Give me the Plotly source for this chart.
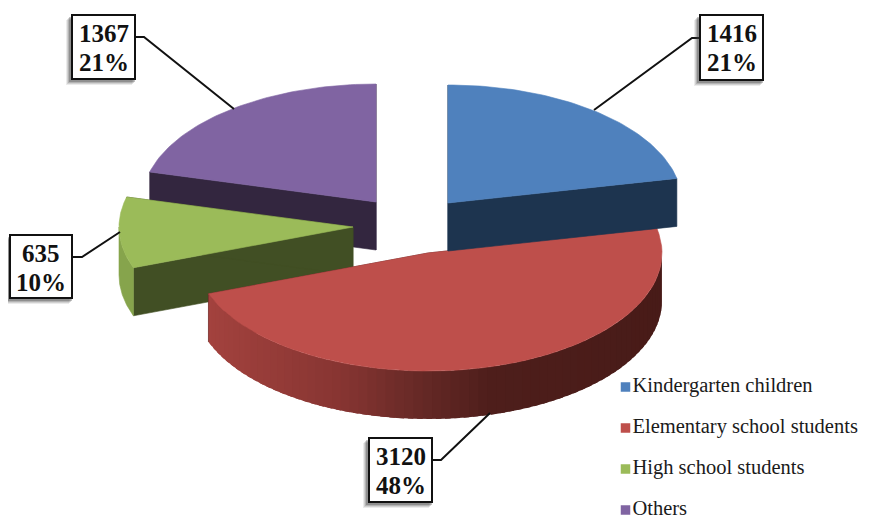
import math
import plotly.graph_objects as go

# ---- data -------------------------------------------------------------
categories = ["Kindergarten children", "Elementary school students", "High school students", "Others"]
values = [1416, 3120, 635, 1367]
percent_labels = ["21%", "48%", "10%", "21%"]

# ---- style and layout --------------------------------------------------
W, H = 872, 518
PAGE_MARGIN = 8  # the page body offsets the figure by this much
FONT = "Liberation Serif"
top_colors = ["#4F81BD", "#BE4F4B", "#9BBB59", "#8064A2"]
cut_colors = ["#1D344F", "#4E1F1D", "#414F24", "#33263F"]
wall_colors = ["#1D344F", None, "#86A44C", "#33263F"]
centers = [(448, 203), (428, 253), (353, 227), (376, 202)]
RX, RY, DEPTH = 234, 118, 48
draw_order = [3, 2, 1, 0]
red_stops = [(208, (163, 66, 62)), (340, (135, 53, 50)), (420, (102, 41, 38)),
             (490, (78, 30, 27)), (661, (72, 27, 24))]
label_boxes = [(700, 15, 763, 80), (369, 438, 432, 502), (10, 235, 72, 298), (72, 15, 135, 79)]
leaders = [[(700, 38), (692, 38), (594, 110)], [(432, 460), (441, 460), (490, 413)],
           [(72, 257), (82, 257), (120, 232)], [(135, 37), (144, 37), (234, 109)]]
legend_x, legend_ys = 625.5, [387, 428, 469, 510]

# ---- angles from the values ---------------------------------------------
total = sum(values)
starts, ends, acc = [], [], 0.0
for v in values:
    starts.append(acc)
    acc += v / total * 2 * math.pi
    ends.append(acc)


def rim(c, t, dy=0):
    return c[0] + RX * math.sin(t), c[1] - RY * math.cos(t) + dy


def arc(c, t0, t1, dy=0, n=60):
    return [rim(c, t0 + (t1 - t0) * k / n, dy) for k in range(n + 1)]


def poly(fig, pts, color, lw=0.6):
    fig.add_trace(go.Scatter(x=[p[0] for p in pts] + [pts[0][0]], y=[p[1] for p in pts] + [pts[0][1]],
                             mode="lines", fill="toself", fillcolor=color,
                             line=dict(color=color, width=lw), hoverinfo="skip", showlegend=False))


def red_color(x):
    for (x0, c0), (x1, c1) in zip(red_stops, red_stops[1:]):
        if x <= x1:
            f = max(0, (x - x0) / (x1 - x0))
            return "rgb(%d,%d,%d)" % tuple(round(a + (b - a) * f) for a, b in zip(c0, c1))
    return "rgb(%d,%d,%d)" % red_stops[-1][1]


fig = go.Figure()

for i in draw_order:
    c, t0, t1 = centers[i], starts[i], ends[i]
    # cut faces
    for t in (t0, t1):
        a, b = c, rim(c, t)
        poly(fig, [a, b, (b[0], b[1] + DEPTH), (a[0], a[1] + DEPTH)], cut_colors[i])
    # outer wall: only the front half of the rim shows
    w0, w1 = max(t0, math.pi / 2), min(t1, 3 * math.pi / 2)
    if w1 > w0:
        if i == 1:
            n = 70
            step = (w1 - w0) / n
            for k in range(n):
                a = w0 + step * k
                b = min(w1, a + step * 1.6)  # overlap hides seams between strips
                top = arc(c, a, b, 0, 3)
                low = arc(c, b, a, DEPTH, 3)
                poly(fig, top + low, red_color(rim(c, a + step / 2)[0]), lw=0)
        else:
            poly(fig, arc(c, w0, w1) + arc(c, w1, w0, DEPTH), wall_colors[i])
    # top face
    poly(fig, [c] + arc(c, t0, t1), top_colors[i])

# leader lines
for pts in leaders:
    fig.add_trace(go.Scatter(x=[p[0] for p in pts], y=[p[1] for p in pts], mode="lines",
                             line=dict(color="#111111", width=2), hoverinfo="skip", showlegend=False))

# legend keys and names
fig.add_trace(go.Scatter(x=[legend_x] * 4, y=legend_ys, mode="markers+text",
                         marker=dict(symbol="square", size=9.5, color=top_colors, line=dict(width=0)),
                         text=categories, textposition="middle right",
                         textfont=dict(family=FONT, size=20.5, color="#1a1a1a"),
                         hoverinfo="skip", showlegend=False, cliponaxis=False))

shapes, annotations = [], []
for box, val, pct in zip(label_boxes, values, percent_labels):
    x0, y0, x1, y1 = box
    for off, alpha in ((6, 0.10), (5, 0.14), (4, 0.2), (3, 0.3)):
        shapes.append(dict(type="rect", x0=x0 - off, x1=x1 - off + 3, y0=y0 + off - 1, y1=y1 + off,
                           fillcolor="rgba(60,60,60,%.2f)" % alpha, line=dict(width=0), layer="above"))
    shapes.append(dict(type="rect", x0=x0, x1=x1, y0=y0, y1=y1, fillcolor="white",
                       line=dict(color="#111111", width=2), layer="above"))
    cx = (x0 + x1) / 2
    for text, yy in ((str(val), y0 + 18), (pct, y0 + 47)):
        annotations.append(dict(x=cx, y=yy, text="<b>%s</b>" % text, showarrow=False, xanchor="center",
                                yanchor="middle", font=dict(family=FONT, size=25, color="#111111")))

fig.update_layout(
    width=W - PAGE_MARGIN, height=H - PAGE_MARGIN, margin=dict(l=0, r=0, t=0, b=0), autosize=False,
    paper_bgcolor="white", plot_bgcolor="white", showlegend=False,
    xaxis=dict(range=[PAGE_MARGIN, W], visible=False, fixedrange=True),
    yaxis=dict(range=[H, PAGE_MARGIN], visible=False, fixedrange=True),
    shapes=shapes, annotations=annotations,
)
fig.write_html("out.html", config={"displayModeBar": False})
